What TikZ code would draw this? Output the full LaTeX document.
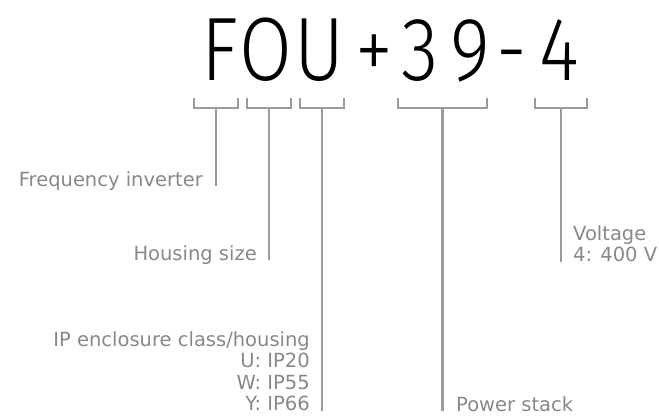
\documentclass[tikz,border=0pt]{standalone}
\usepackage{fontspec}
\setmainfont{DejaVu Sans}
\newfontfamily\codefont{Fira Sans Light}
\usetikzlibrary{positioning}
\definecolor{cLine}{RGB}{155,155,155}
\definecolor{cText}{RGB}{136,136,136}

\begin{document}
\begin{tikzpicture}[x=1pt, y=-1pt,
    bigchar/.style={anchor=base, inner sep=0pt, font=\codefont\fontsize{90}{90}\selectfont, xscale=0.85},
    lbl/.style={inner sep=0pt, text=cText, font=\fontsize{19.5}{21.5}\selectfont},
    brk/.style={cLine, line width=2.5pt}]

    \useasboundingbox (0,0) rectangle (659,416);

    % --- Type code ---
    \foreach \ch/\x [count=\i] in {F/220, O/266, U/319, +/374, 3/420, 9/470, -/512, 4/559} {
        \node[bigchar] (c\i) at (\x,80) {\ch};
    }

    % --- Brackets under the code fields ---
    % \l, \r, \name
    \foreach \l/\r/\name in {
        194/238/b1,
        247/291/b2,
        300/344/b3,
        398/487/b4,
        535/587/b5%
    } {
        \draw[brk] (\l,98) -- (\l,108) -- (\r,108) -- (\r,98);
        \coordinate (\name) at ({(\l+\r)/2},108);
    }

    % --- Labels ---
    \node[lbl, anchor=base east] (lblFreq) at (203,186) {Frequency inverter};
    \node[lbl, anchor=base east] (lblHousing) at (257,260) {Housing size};
    \node[lbl, anchor=south east, align=right] (lblIP) at (310,411)
        {IP enclosure class/housing\\U: IP20\\W: IP55\\Y: IP66};
    \node[lbl, anchor=base west] (lblPower) at (456,411) {Power stack};
    \node[lbl, anchor=south west, align=left] (lblVolt) at (573,262) {Voltage\\4: 400 V};

    % --- Stems ---
    \draw[brk] (b1) -- (b1 |- lblFreq.base);
    \draw[brk] (b2) -- (b2 |- lblHousing.base);
    \draw[brk] (b3) -- (b3 |- lblIP.south);
    \draw[brk] (b4) -- (b4 |- lblPower.base);
    \draw[brk] (b5) -- (b5 |- lblVolt.south);

\end{tikzpicture}
\end{document}
